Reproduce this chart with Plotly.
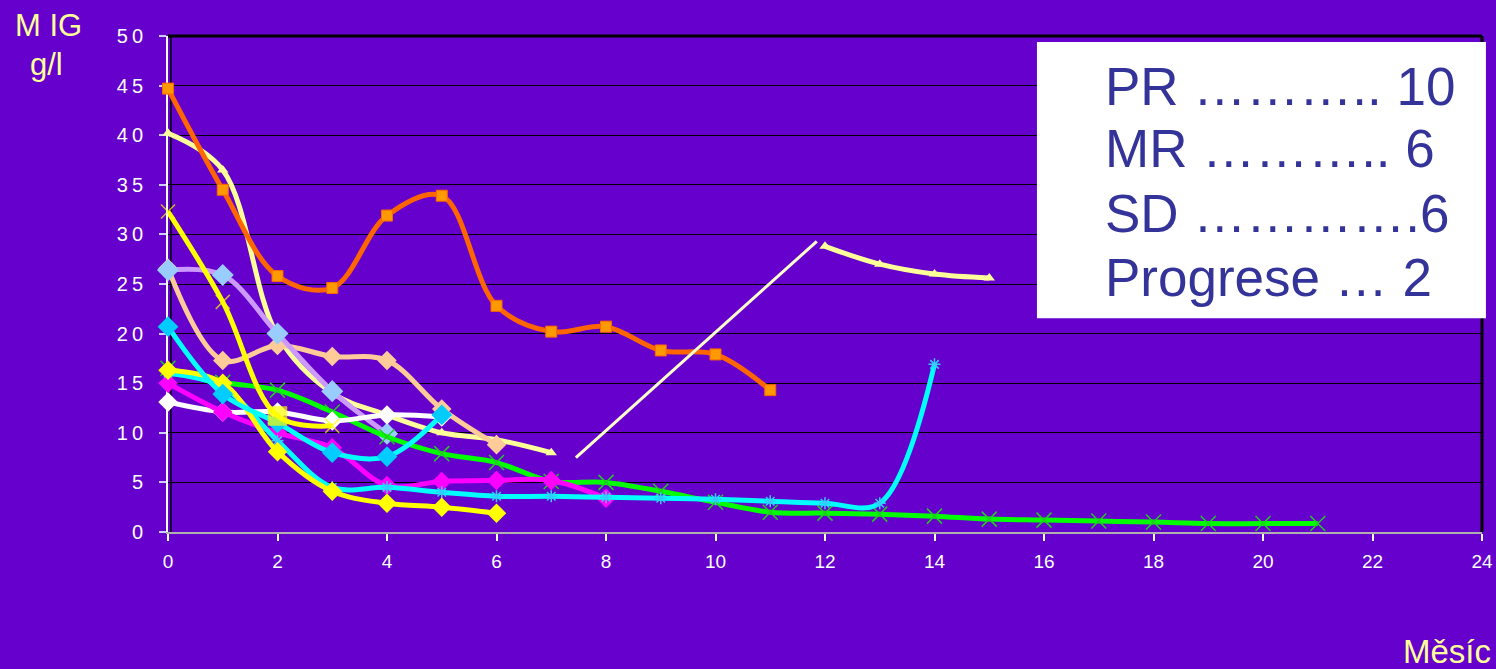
import plotly.graph_objects as go

# Months since start of therapy
months = list(range(0, 22))

# Monoclonal IgG (g/l) per patient, one list per patient
orange = [44.7, 34.5, 25.8, 24.6, 31.9, 33.9, 22.8, 20.2, 20.7, 18.3, 17.9, 14.3]
light_yellow = [40.2, 36.5, 19.8, 14.0, 11.8, 10.0, 9.3, 8.0,
                None, None, None, None, 28.8, 27.0, 26.0, 25.6]
yellow_x = [32.3, 23.2, 11.7, 10.7]
yellow_x_symbols = ["x-thin", "x-thin", "square", "x-thin"]
yellow_x_sizes = [14, 14, 18, 14]
peach = [26.6, 17.3, 18.8, 17.7, 17.3, 12.4, 8.8]
lavender = [26.4, 25.9, 20.0, 14.2, 9.9]
white = [13.1, 12.1, 12.1, 11.2, 11.8, 11.6]
sky = [20.7, 13.9, 11.0, 8.0, 7.6, 11.8]
magenta = [15.0, 12.1, 10.0, 8.5, 4.7, 5.1, 5.2, 5.2, 3.4]
green = [16.5, 15.1, 14.3, 12.1, 9.6, 7.9, 7.0, 5.1, 5.0, 4.1, 3.0,
         2.0, 1.9, 1.8, 1.6, 1.3, 1.2, 1.1, 1.0, 0.85, 0.85, 0.85]
cyan_star = [16.0, 14.6, 9.2, 4.5, 4.5, 4.0, 3.6, 3.6, 3.5, 3.4, 3.3,
             3.1, 2.9, 2.9, 16.9]
yellow_diamond = [16.3, 15.0, 8.1, 4.1, 2.9, 2.5, 1.9]

# Relapse connector between the two segments of one patient
connector_x = [7.45, 11.85]
connector_y = [7.5, 29.3]

# Response summary
summary_lines = ["PR ……….. 10", "MR ……….. 6", "SD ………….6", "Progrese … 2"]

x_ticks = list(range(0, 25, 2))
y_ticks = list(range(0, 51, 5))

FONT = "Liberation Sans, Arial, sans-serif"
BG = "#6600CC"
LW = 5

fig = go.Figure()


def add_series(values, line_color, symbol, marker_color, size,
               marker_line=None, marker_line_width=0, width=LW):
    fig.add_trace(go.Scatter(
        x=months[:len(values)], y=values,
        mode="lines+markers",
        line=dict(color=line_color, width=width, shape="spline", smoothing=1),
        marker=dict(symbol=symbol, color=marker_color, size=size,
                    line=dict(color=marker_line or marker_color,
                              width=marker_line_width)),
        connectgaps=False, cliponaxis=False, hoverinfo="x+y",
    ))


add_series(light_yellow, "#FFFF99", "triangle-up", "#FFFF99", 10)
add_series(orange, "#FF6600", "square", "#FF9900", 11, "#FF6600", 1)
add_series(peach, "#FFCC99", "diamond", "#FFCC99", 15)
add_series(lavender, "#CC99FF", "diamond", "#99CCFF", 17)
add_series(green, "#00FF00", "x-thin", "#22CC22", 15, "#22CC22", 1.5)
add_series(white, "#FFFFFF", "diamond", "#FFFFFF", 15)
add_series(magenta, "#FF00FF", "diamond", "#FF00FF", 15)
add_series(cyan_star, "#00FFFF", "asterisk-open", "#33CCFF", 10, "#33CCFF", 1.5)
add_series(yellow_diamond, "#FFFF00", "diamond", "#FFFF00", 15)
add_series(sky, "#00FFFF", "diamond", "#00CCFF", 16)

fig.add_trace(go.Scatter(
    x=months[:len(yellow_x)], y=yellow_x,
    mode="lines+markers",
    line=dict(color="#FFFF00", width=LW, shape="spline", smoothing=1),
    marker=dict(symbol=yellow_x_symbols, size=yellow_x_sizes, color="#FFFF00",
                line=dict(color="#FFFF00", width=1.5)),
    cliponaxis=False, hoverinfo="x+y",
))

fig.add_trace(go.Scatter(
    x=connector_x, y=connector_y, mode="lines",
    line=dict(color="#FFFFCC", width=3), hoverinfo="skip",
))

shapes = [
    # plot frame: black top/right edges, dark edge beside the white y axis
    dict(type="line", xref="x domain", yref="y domain", x0=1, x1=1, y0=0, y1=1,
         line=dict(color="black", width=3), layer="below"),
    dict(type="line", xref="x domain", yref="y domain", x0=0, x1=1, y0=1, y1=1,
         line=dict(color="black", width=3), layer="below"),
    dict(type="line", xref="x domain", yref="y domain", x0=0.0022, x1=0.0022,
         y0=0, y1=1, line=dict(color="black", width=1.5), layer="below"),
    # summary box
    dict(type="rect", xref="paper", yref="paper",
         x0=0.6613, x1=1.0030, y0=0.431, y1=0.988,
         fillcolor="white", line=dict(width=0), layer="above"),
]

annotations = [
    dict(text="M IG", xref="paper", yref="paper", x=-0.0906, y=1.022,
         xanchor="center", yanchor="middle", showarrow=False,
         font=dict(family=FONT, size=31, color="#FFFF99")),
    dict(text="g/l", xref="paper", yref="paper", x=-0.0928, y=0.942,
         xanchor="center", yanchor="middle", showarrow=False,
         font=dict(family=FONT, size=31, color="#FFFF99")),
    dict(text="Měsíc", xref="paper", yref="paper", x=1.0084, y=-0.241,
         xanchor="right", yanchor="middle", showarrow=False,
         font=dict(family=FONT, size=33, color="#FFFF99")),
]

summary_y = [0.899, 0.774, 0.643, 0.514]
for text, yy in zip(summary_lines, summary_y):
    annotations.append(dict(
        text=text, xref="paper", yref="paper", x=0.7116, y=yy,
        xanchor="left", yanchor="middle", showarrow=False,
        font=dict(family=FONT, size=53, color="#333399")))

fig.update_layout(
    width=1496, height=669, autosize=False,
    margin=dict(l=168, r=14, t=36, b=137, pad=0, autoexpand=False),
    paper_bgcolor=BG, plot_bgcolor=BG,
    showlegend=False,
    shapes=shapes, annotations=annotations,
    font=dict(family=FONT, color="white"),
)

fig.update_xaxes(
    range=[0, 24], tickmode="array", tickvals=x_ticks,
    ticktext=[str(v) for v in x_ticks],
    showgrid=False, zeroline=False, automargin=False,
    showline=True, linecolor="#B0B0B0", linewidth=2,
    ticks="outside", ticklen=7, tickcolor="white", tickwidth=1.5,
    tickfont=dict(family=FONT, size=19, color="white"),
    ticklabelstandoff=4, layer="below traces",
)

fig.update_yaxes(
    range=[0, 50], tickmode="array", tickvals=y_ticks,
    ticktext=["\u2009".join(str(v)) for v in y_ticks],
    showgrid=True, gridcolor="black", gridwidth=1,
    zeroline=False, automargin=False,
    showline=True, linecolor="white", linewidth=2,
    ticks="outside", ticklen=7, tickcolor="#CCCCFF", tickwidth=1.5,
    tickfont=dict(family=FONT, size=20, color="white"),
    ticklabelstandoff=12, layer="below traces",
)

fig.write_html("out.html")
